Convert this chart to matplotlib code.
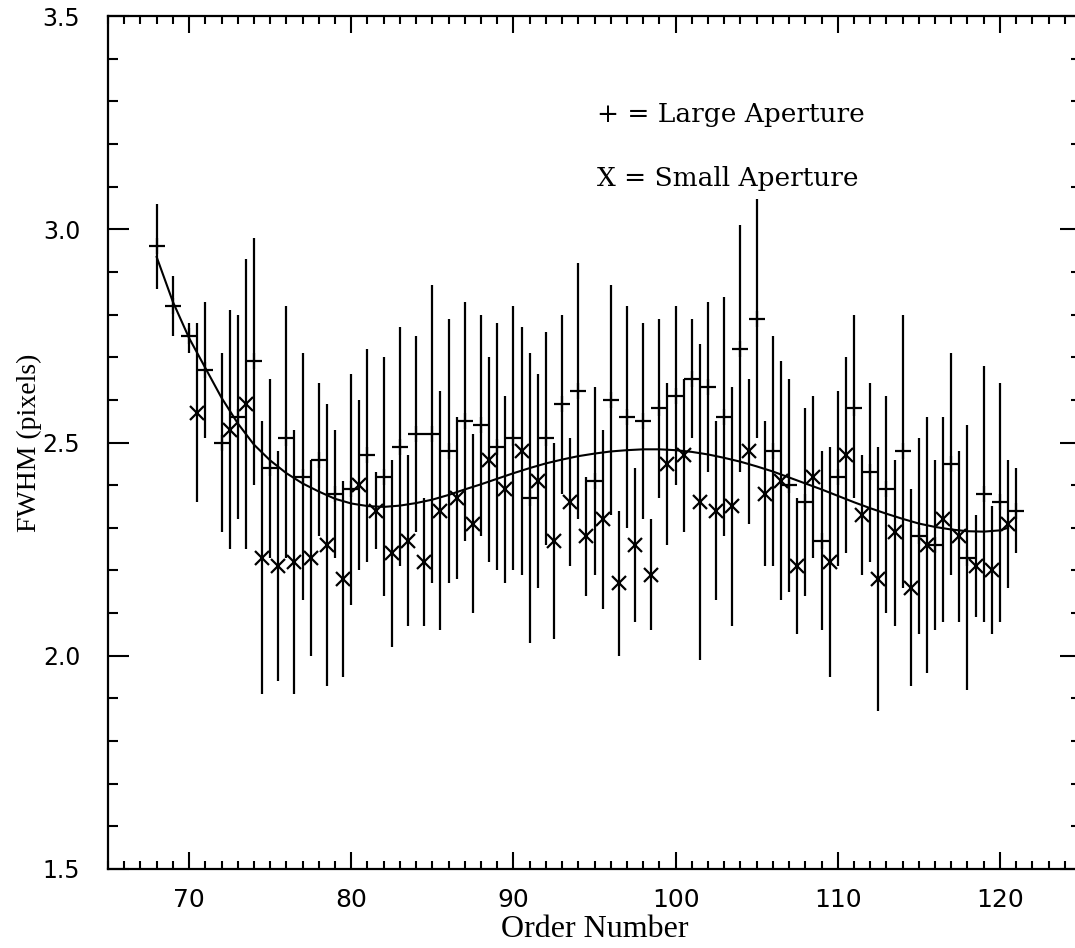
import matplotlib
matplotlib.use("Agg")
import matplotlib.pyplot as plt
from matplotlib.ticker import MultipleLocator

# Large aperture (+) : order number, FWHM, error-bar low, error-bar high
large_x = [68, 69, 70, 71, 72, 73, 74, 75, 76, 77, 78, 79, 80, 81, 82, 83, 84, 85,
           86, 87, 88, 89, 90, 91, 92, 93, 94, 95, 96, 97, 98, 99, 100, 101, 102,
           103, 104, 105, 106, 107, 108, 109, 110, 111, 112, 113, 114, 115, 116,
           117, 118, 119, 120, 121]
large_y = [2.96, 2.82, 2.75, 2.67, 2.50, 2.56, 2.69, 2.44, 2.51, 2.42, 2.46, 2.38,
           2.39, 2.47, 2.42, 2.49, 2.52, 2.52, 2.48, 2.55, 2.54, 2.49, 2.51, 2.37,
           2.51, 2.59, 2.62, 2.41, 2.60, 2.56, 2.55, 2.58, 2.61, 2.65, 2.63, 2.56,
           2.72, 2.79, 2.48, 2.40, 2.36, 2.27, 2.42, 2.58, 2.43, 2.39, 2.48, 2.28,
           2.26, 2.45, 2.23, 2.38, 2.36, 2.34]
large_lo = [2.86, 2.75, 2.71, 2.51, 2.29, 2.32, 2.40, 2.23, 2.23, 2.13, 2.28, 2.23,
            2.12, 2.22, 2.14, 2.21, 2.29, 2.17, 2.17, 2.27, 2.28, 2.20, 2.20, 2.03,
            2.26, 2.38, 2.32, 2.19, 2.33, 2.30, 2.32, 2.37, 2.40, 2.51, 2.43, 2.28,
            2.43, 2.51, 2.21, 2.15, 2.14, 2.06, 2.21, 2.37, 2.22, 2.10, 2.16, 2.05,
            2.06, 2.19, 1.92, 2.08, 2.08, 2.24]
large_hi = [3.06, 2.89, 2.78, 2.83, 2.71, 2.80, 2.98, 2.65, 2.82, 2.71, 2.64, 2.53,
            2.66, 2.72, 2.70, 2.77, 2.75, 2.87, 2.79, 2.83, 2.80, 2.78, 2.82, 2.71,
            2.76, 2.80, 2.92, 2.63, 2.87, 2.82, 2.78, 2.79, 2.82, 2.79, 2.83, 2.84,
            3.01, 3.07, 2.75, 2.65, 2.58, 2.48, 2.62, 2.80, 2.64, 2.61, 2.80, 2.51,
            2.46, 2.71, 2.54, 2.68, 2.64, 2.44]

# Small aperture (X)
small_x = [70.5, 72.5, 73.5, 74.5, 75.5, 76.5, 77.5, 78.5, 79.5, 80.5, 81.5, 82.5,
           83.5, 84.5, 85.5, 86.5, 87.5, 88.5, 89.5, 90.5, 91.5, 92.5, 93.5, 94.5,
           95.5, 96.5, 97.5, 98.5, 99.5, 100.5, 101.5, 102.5, 103.5, 104.5, 105.5,
           106.5, 107.5, 108.5, 109.5, 110.5, 111.5, 112.5, 113.5, 114.5, 115.5,
           116.5, 117.5, 118.5, 119.5, 120.5]
small_y = [2.57, 2.53, 2.59, 2.23, 2.21, 2.22, 2.23, 2.26, 2.18, 2.40, 2.34, 2.24,
           2.27, 2.22, 2.34, 2.37, 2.31, 2.46, 2.39, 2.48, 2.41, 2.27, 2.36, 2.28,
           2.32, 2.17, 2.26, 2.19, 2.45, 2.47, 2.36, 2.34, 2.35, 2.48, 2.38, 2.41,
           2.21, 2.42, 2.22, 2.47, 2.33, 2.18, 2.29, 2.16, 2.26, 2.32, 2.28, 2.21,
           2.20, 2.31]
small_lo = [2.36, 2.25, 2.25, 1.91, 1.94, 1.91, 2.00, 1.93, 1.95, 2.20, 2.25, 2.02,
            2.07, 2.07, 2.06, 2.18, 2.10, 2.22, 2.17, 2.19, 2.16, 2.04, 2.21, 2.14,
            2.11, 2.00, 2.08, 2.06, 2.26, 2.29, 1.99, 2.13, 2.07, 2.31, 2.21, 2.13,
            2.05, 2.23, 1.95, 2.24, 2.19, 1.87, 2.07, 1.93, 1.96, 2.08, 2.08, 2.09,
            2.05, 2.16]
small_hi = [2.78, 2.81, 2.93, 2.55, 2.48, 2.53, 2.46, 2.59, 2.41, 2.60, 2.43, 2.46,
            2.47, 2.37, 2.62, 2.56, 2.52, 2.70, 2.61, 2.77, 2.66, 2.50, 2.51, 2.42,
            2.53, 2.34, 2.44, 2.32, 2.64, 2.65, 2.73, 2.55, 2.63, 2.65, 2.55, 2.69,
            2.37, 2.61, 2.49, 2.70, 2.47, 2.49, 2.46, 2.39, 2.56, 2.56, 2.48, 2.33,
            2.35, 2.46]

# Fitted curve
fit_x = [68, 69, 70, 71, 72, 73, 74, 75, 76, 77, 78, 79, 80, 81, 82, 83, 84, 85, 86,
         87, 88, 89, 90, 91, 92, 93, 94, 95, 96, 97, 98, 99, 100, 101, 102, 103, 104,
         105, 106, 107, 108, 109, 110, 111, 112, 113, 114, 115, 116, 117, 118, 119,
         120, 120.5]
fit_y = [2.935, 2.83, 2.745, 2.675, 2.605, 2.545, 2.495, 2.458, 2.428, 2.404, 2.385,
         2.368, 2.357, 2.351, 2.349, 2.352, 2.358, 2.366, 2.377, 2.39, 2.402, 2.415,
         2.428, 2.44, 2.451, 2.46, 2.468, 2.474, 2.479, 2.482, 2.484, 2.484, 2.482,
         2.478, 2.472, 2.464, 2.455, 2.444, 2.432, 2.418, 2.404, 2.39, 2.375, 2.36,
         2.346, 2.333, 2.321, 2.31, 2.302, 2.296, 2.292, 2.291, 2.294, 2.30]

fig = plt.figure(figsize=(10.75, 9.48), dpi=100)
ax = fig.add_axes([108 / 1075, 79 / 948, 973 / 1075, 853 / 948])

lw = 1.6
ax.vlines(large_x, large_lo, large_hi, colors="black", linewidth=lw)
ax.vlines(small_x, small_lo, small_hi, colors="black", linewidth=lw)
ax.plot(large_x, large_y, linestyle="none", marker="+", markersize=12,
        markeredgewidth=lw, color="black")
ax.plot(small_x, small_y, linestyle="none", marker="x", markersize=10,
        markeredgewidth=lw, color="black")
ax.plot(fit_x, fit_y, color="black", linewidth=1.5)

ax.set_xlim(65, 125)
ax.set_ylim(1.5, 3.5)
ax.xaxis.set_major_locator(MultipleLocator(10))
ax.xaxis.set_minor_locator(MultipleLocator(1))
ax.yaxis.set_major_locator(MultipleLocator(0.5))
ax.yaxis.set_minor_locator(MultipleLocator(0.1))
ax.yaxis.set_major_formatter(plt.FormatStrFormatter("%.1f"))

for s in ax.spines.values():
    s.set_linewidth(1.6)

ax.tick_params(axis="x", which="major", direction="in", length=12, width=1.5,
               top=True, bottom=True, pad=14, labelsize=18)
ax.tick_params(axis="x", which="minor", direction="in", length=6, width=1.5,
               top=True, bottom=True)
ax.tick_params(axis="y", which="major", direction="in", length=15, width=1.5,
               left=True, right=True, pad=20, labelsize=17)
ax.tick_params(axis="y", which="minor", direction="in", length=7, width=1.5,
               left=True, right=True)

for lab in ax.get_xticklabels() + ax.get_yticklabels():
    lab.set_family("DejaVu Sans")

ax.set_xlabel("Order Number", family="Liberation Serif", fontsize=23, labelpad=2)
ax.set_ylabel("FWHM (pixels)", family="Liberation Serif", fontsize=20)
ax.yaxis.set_label_coords(-0.068, 0.5)

ax.text(0.503, 0.885, "+ = Large Aperture", transform=ax.transAxes,
        family="DejaVu Serif", fontsize=19, va="center", ha="left")
ax.text(0.503, 0.810, "X = Small Aperture", transform=ax.transAxes,
        family="DejaVu Serif", fontsize=19, va="center", ha="left")

fig.savefig("out.png", dpi=100)
